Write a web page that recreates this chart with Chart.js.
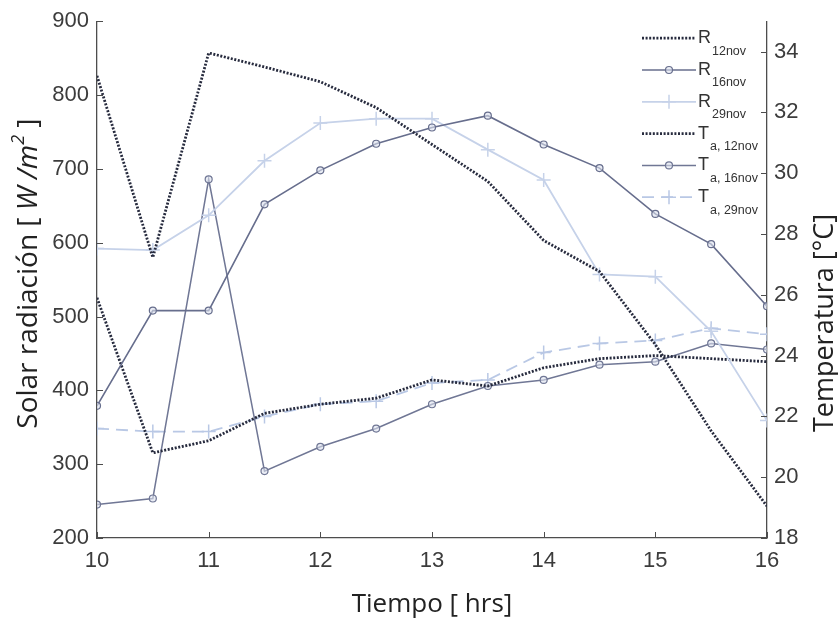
<!DOCTYPE html>
<html>
<head>
<meta charset="utf-8">
<script src="https://cdn.jsdelivr.net/npm/chart.js@4.4.1/dist/chart.umd.min.js"></script>
<style>
    html, body { margin: 0; padding: 0; background: #fff; }
</style>
</head>
<body>
<canvas id="chart" width="838" height="621"></canvas>
<script>
// horas (eje x)
var hours = [10, 10.5, 11, 11.5, 12, 12.5, 13, 13.5, 14, 14.5, 15, 15.5, 16];

// radiacion solar [W/m2] (eje izquierdo)
var rad12 = [826, 580, 857, 838, 818, 783, 733, 683, 603, 561, 462, 345, 243];
var rad16 = [379, 508, 508, 652, 698, 734, 756, 772, 733, 701, 639, 598, 514];
var rad29 = [592, 590, 637, 711, 762, 768, 768, 726, 685, 557, 554, 480, 359];

// temperatura ambiente [C] (eje derecho)
var temp12 = [25.9, 20.8, 21.2, 22.1, 22.4, 22.6, 23.2, 23.0, 23.6, 23.9, 24.0, 23.9, 23.8];
var temp16 = [19.1, 19.3, 29.8, 20.2, 21.0, 21.6, 22.4, 23.0, 23.2, 23.7, 23.8, 24.4, 24.2];
var temp29 = [21.6, 21.5, 21.5, 22.0, 22.4, 22.5, 23.1, 23.2, 24.1, 24.4, 24.5, 24.9, 24.7];

// ticks
var hourTicks = [10, 11, 12, 13, 14, 15, 16];
var radTicks = [200, 300, 400, 500, 600, 700, 800, 900];
var tempTicks = [18, 20, 22, 24, 26, 28, 30, 32, 34];

// leyenda (letra + subindice)
var legendMain = ['R', 'R', 'R', 'T', 'T', 'T'];
var legendSub = ['12nov', '16nov', '29nov', 'a, 12nov', 'a, 16nov', 'a, 29nov'];

function toPoints(values) {
    return hours.map(function (h, i) {
        return {x: h, y: values[i]};
    });
}

var dark = '#272b3e';
var mid = '#676e8d';
var mid2 = '#707795';
var light = '#c6d2e9';
var light2 = '#b9c8e5';

// marcas de los ejes hacia adentro (estilo matlab)
var innerTicks = {
    id: 'innerTicks',
    afterDatasetsDraw: function (chart) {
        var ctx = chart.ctx;
        var a = chart.chartArea;
        var sx = chart.scales.x, sy = chart.scales.y, sy1 = chart.scales.y1;
        ctx.save();
        ctx.strokeStyle = '#4d4d4d';
        ctx.lineWidth = 1;
        ctx.beginPath();
        sx.ticks.forEach(function (t) {
            var px = Math.round(sx.getPixelForValue(t.value)) + 0.5;
            ctx.moveTo(px, a.bottom);
            ctx.lineTo(px, a.bottom - 6);
        });
        sy.ticks.forEach(function (t) {
            var py = Math.round(sy.getPixelForValue(t.value)) + 0.5;
            ctx.moveTo(a.left, py);
            ctx.lineTo(a.left + 6, py);
        });
        sy1.ticks.forEach(function (t) {
            var py = Math.round(sy1.getPixelForValue(t.value)) + 0.5;
            ctx.moveTo(a.right, py);
            ctx.lineTo(a.right - 6, py);
        });
        ctx.stroke();
        ctx.restore();
    }
};

// titulos de los ejes y (leidos de abajo hacia arriba)
var yTitles = {
    id: 'yTitles',
    afterDraw: function (chart) {
        var ctx = chart.ctx;
        var a = chart.chartArea;
        ctx.save();
        ctx.fillStyle = '#222';
        ctx.textBaseline = 'middle';

        // izquierda: Solar radiación [ W/m² ]
        var parts = [
            {t: 'Solar radiación [ ', f: '28px "Open Sans"', dy: 0},
            {t: 'W /m', f: 'italic 28px "Open Sans"', dy: 0},
            {t: '2', f: 'italic 18px "Open Sans"', dy: -10},
            {t: ' ]', f: '28px "Open Sans"', dy: 0}
        ];
        var total = 0;
        parts.forEach(function (p) {
            ctx.font = p.f;
            p.w = ctx.measureText(p.t).width;
            total += p.w;
        });
        ctx.translate(29, (a.top + a.bottom) / 2 - 6);
        ctx.rotate(-Math.PI / 2);
        var x = -total / 2;
        parts.forEach(function (p) {
            ctx.font = p.f;
            ctx.fillText(p.t, x, p.dy);
            x += p.w;
        });
        ctx.restore();

        // derecha: Temperatura [°C]
        ctx.save();
        ctx.fillStyle = '#222';
        ctx.textBaseline = 'middle';
        ctx.textAlign = 'center';
        ctx.font = '27px "Open Sans"';
        ctx.translate(825, 323);
        ctx.rotate(-Math.PI / 2);
        ctx.fillText('Temperatura [°C]', 0, 0);
        ctx.restore();
    }
};

// leyenda con subindices
var subLegend = {
    id: 'subLegend',
    afterDraw: function (chart) {
        var ctx = chart.ctx;
        var a = chart.chartArea;
        var x0 = a.right - 125;
        var x1 = x0 + 54;
        chart.data.datasets.forEach(function (ds, i) {
            var y = a.top + 17 + i * 31.8;
            ctx.save();
            ctx.strokeStyle = ds.borderColor;
            ctx.lineWidth = ds.borderWidth;
            ctx.setLineDash(ds.borderDash || []);
            ctx.beginPath();
            ctx.moveTo(x0, y);
            ctx.lineTo(x1, y);
            ctx.stroke();
            ctx.setLineDash([]);
            if (ds.pointRadius > 0) {
                ctx.fillStyle = ds.pointBackgroundColor;
                ctx.strokeStyle = ds.borderColor;
                ctx.lineWidth = ds.pointBorderWidth;
                Chart.helpers.drawPoint(ctx, {
                    pointStyle: ds.pointStyle,
                    radius: ds.pointRadius,
                    borderWidth: ds.pointBorderWidth,
                    rotation: 0
                }, (x0 + x1) / 2, y);
            }
            ctx.fillStyle = '#333';
            ctx.textBaseline = 'middle';
            ctx.font = '18px "Liberation Sans"';
            ctx.fillText(legendMain[i], x1 + 2, y);
            var w = ctx.measureText(legendMain[i]).width;
            ctx.font = '12.5px "Liberation Sans"';
            ctx.fillText(legendSub[i], x1 + 3 + w, y + 13);
            ctx.restore();
        });
    }
};

var tickFont = {family: '"Liberation Sans", Arial, sans-serif', size: 22};

var chart = new Chart(document.getElementById('chart'), {
    type: 'line',
    data: {
        datasets: [{
            label: 'R 12nov',
            data: toPoints(rad12),
            yAxisID: 'y',
            borderColor: dark,
            borderWidth: 2.8,
            borderDash: [2, 1.6],
            pointRadius: 0
        }, {
            label: 'R 16nov',
            data: toPoints(rad16),
            yAxisID: 'y',
            borderColor: mid,
            borderWidth: 1.6,
            pointStyle: 'circle',
            pointRadius: 3.5,
            pointBorderWidth: 1.2,
            pointBorderColor: mid,
            pointBackgroundColor: 'rgba(220,225,238,0.6)'
        }, {
            label: 'R 29nov',
            data: toPoints(rad29),
            yAxisID: 'y',
            borderColor: light,
            borderWidth: 1.8,
            pointStyle: 'cross',
            pointRadius: 7,
            pointBorderWidth: 1.5,
            pointBorderColor: light,
            pointBackgroundColor: light
        }, {
            label: 'T a,12nov',
            data: toPoints(temp12),
            yAxisID: 'y1',
            borderColor: dark,
            borderWidth: 2.8,
            borderDash: [2, 1.6],
            pointRadius: 0
        }, {
            label: 'T a,16nov',
            data: toPoints(temp16),
            yAxisID: 'y1',
            borderColor: mid2,
            borderWidth: 1.5,
            pointStyle: 'circle',
            pointRadius: 3.5,
            pointBorderWidth: 1.2,
            pointBorderColor: mid2,
            pointBackgroundColor: 'rgba(220,225,238,0.6)'
        }, {
            label: 'T a,29nov',
            data: toPoints(temp29),
            yAxisID: 'y1',
            borderColor: light2,
            borderWidth: 1.8,
            borderDash: [12, 7],
            pointStyle: 'cross',
            pointRadius: 7,
            pointBorderWidth: 1.5,
            pointBorderColor: light2,
            pointBackgroundColor: light2
        }]
    },
    options: {
        responsive: false,
        animation: false,
        devicePixelRatio: 1,
        layout: {padding: {top: 18, left: 0, right: 0, bottom: 0}},
        elements: {line: {tension: 0}},
        plugins: {
            legend: {display: false},
            tooltip: {enabled: false}
        },
        scales: {
            x: {
                type: 'linear',
                min: 10,
                max: 16,
                afterBuildTicks: function (s) {
                    s.ticks = hourTicks.map(function (v) { return {value: v}; });
                },
                afterFit: function (s) { s.height = 83; },
                grid: {display: false, drawTicks: false},
                border: {display: true, color: '#4d4d4d', width: 1.3},
                ticks: {font: tickFont, color: '#3c3c3c', padding: 10, maxRotation: 0},
                title: {
                    display: true,
                    text: 'Tiempo [ hrs]',
                    color: '#222',
                    font: {family: '"Open Sans"', size: 26, lineHeight: 1.2},
                    padding: {top: 0, bottom: 1}
                }
            },
            y: {
                position: 'left',
                min: 200,
                max: 900,
                afterBuildTicks: function (s) {
                    s.ticks = radTicks.map(function (v) { return {value: v}; });
                },
                afterFit: function (s) { s.width = 97; },
                grid: {display: false, drawTicks: false},
                border: {display: true, color: '#4d4d4d', width: 1.3},
                ticks: {font: tickFont, color: '#3c3c3c', padding: 8}
            },
            y1: {
                position: 'right',
                min: 18,
                max: 35,
                afterBuildTicks: function (s) {
                    s.ticks = tempTicks.map(function (v) { return {value: v}; });
                },
                afterFit: function (s) { s.width = 71; },
                grid: {display: false, drawTicks: false},
                border: {display: true, color: '#4d4d4d', width: 1.3},
                ticks: {font: tickFont, color: '#3c3c3c', padding: 7}
            }
        }
    },
    plugins: [innerTicks, yTitles, subLegend]
});
</script>
</body>
</html>
